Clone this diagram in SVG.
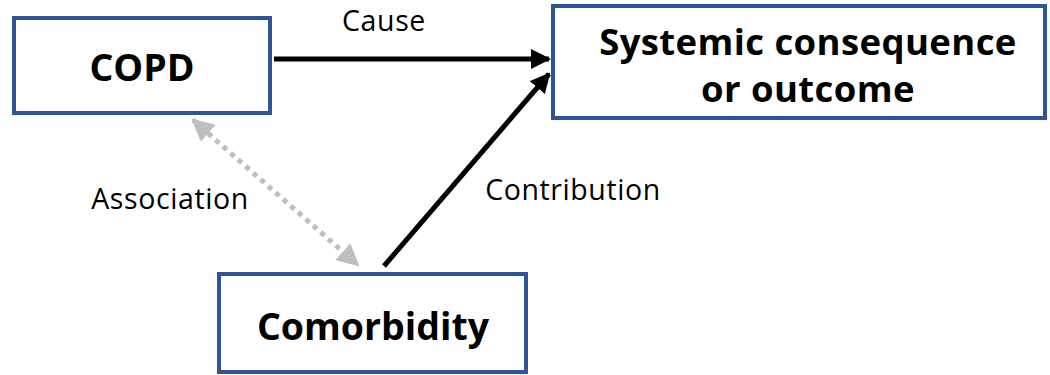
<svg xmlns="http://www.w3.org/2000/svg" width="1050" height="375" viewBox="0 0 1050 375">
<style>
.box{fill:#fff;stroke:#2F5597;stroke-width:4}
.t{font-family:"Open Sans","Noto Sans",sans-serif;font-weight:bold;font-size:37.5px;fill:#000;text-anchor:middle}
.s{font-size:36.5px}
.l{font-family:"Open Sans","Noto Sans",sans-serif;font-size:28.5px;letter-spacing:0.6px;fill:#000;text-anchor:middle}
</style>
<defs>
<marker id="ah" viewBox="0 0 10 10" refX="9" refY="5" markerWidth="4" markerHeight="4" orient="auto" markerUnits="strokeWidth"><path d="M0,0 L10,5 L0,10 z" fill="#000"/></marker>
<marker id="gh" viewBox="0 0 10 10" refX="9" refY="5" markerWidth="4.5" markerHeight="4.5" orient="auto-start-reverse" markerUnits="strokeWidth"><path d="M0,0 L10,5 L0,10 z" fill="#BFBFBF"/></marker>
</defs>
<g id="connectors">
<line x1="274" y1="59" x2="549" y2="59" stroke="#000" stroke-width="5" marker-end="url(#ah)"/>
<line x1="384" y1="266" x2="549" y2="74" stroke="#000" stroke-width="5" marker-end="url(#ah)"/>
<line x1="193" y1="120" x2="358" y2="265" stroke="#BFBFBF" stroke-width="5" stroke-dasharray="5 5" marker-start="url(#gh)" marker-end="url(#gh)"/>
<text class="l" x="384" y="31">Cause</text>
<text class="l" x="170" y="209">Association</text>
<text class="l" x="573" y="200">Contribution</text>
</g>
<g id="copd">
<rect class="box" x="14" y="18" width="256" height="95"/>
<text class="t" x="142" y="81">COPD</text>
</g>
<g id="systemic">
<rect class="box" x="553" y="6" width="492" height="112"/>
<text class="t s" x="808" y="55" letter-spacing="0.4">Systemic consequence</text>
<text class="t s" x="808" y="102" letter-spacing="0.4">or outcome</text>
</g>
<g id="comorbidity">
<rect class="box" x="219" y="274" width="307" height="98"/>
<text class="t" x="373" y="340">Comorbidity</text>
</g>
</svg>
